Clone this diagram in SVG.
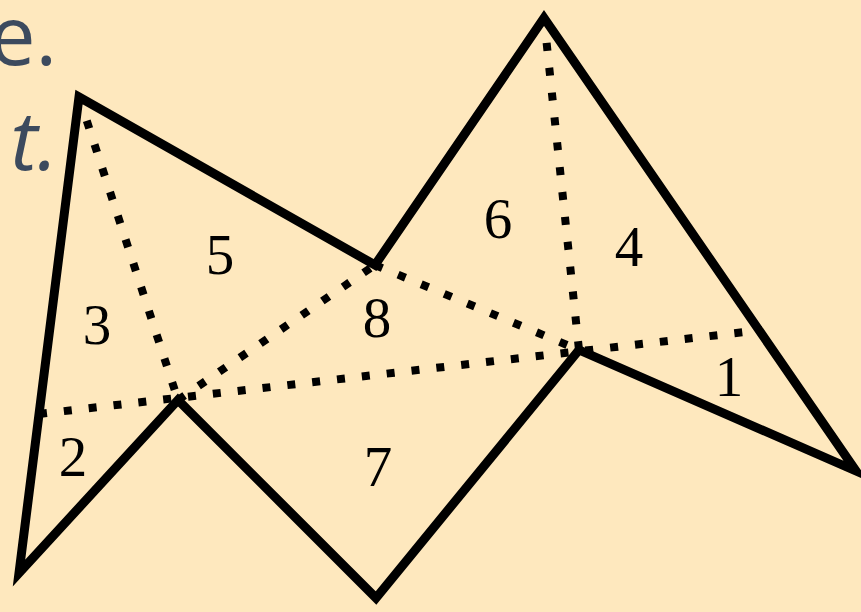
<svg xmlns="http://www.w3.org/2000/svg" width="861" height="612" viewBox="0 0 861 612">
<style>
.edge{fill:none;stroke:#000;stroke-width:9;stroke-linejoin:miter;stroke-miterlimit:10}
.dot{fill:none;stroke:#000;stroke-width:8;stroke-dasharray:8 17;stroke-linecap:butt}
.lbl{font-family:"Liberation Serif","DejaVu Serif",serif;font-size:57px;fill:#000;text-anchor:middle}
.bg{font-family:"Open Sans","Noto Sans",sans-serif;font-size:82px;fill:#3C4A5E;text-anchor:end}
</style>
<rect width="861" height="612" fill="#FEE8BE"/>
<text class="bg" x="57" y="65">e.</text>
<text class="bg" x="58" y="170" font-style="italic">t.</text>
<g id="connectors">
<line class="dot" x1="79" y1="97" x2="178" y2="400"/>
<line class="dot" x1="178" y1="400" x2="375" y2="265"/>
<line class="dot" x1="375" y1="265" x2="579" y2="350"/>
<line class="dot" x1="544" y1="18" x2="579" y2="350"/>
<line class="dot" x1="39" y1="414" x2="762" y2="330"/>
</g>
<g id="polygon">
<polygon class="edge" points="79,97 375,265 544,18 856,471 579,350 376,598 178,400 19,573"/>
</g>
<g id="n1"><text class="lbl" x="729" y="396">1</text></g>
<g id="n2"><text class="lbl" x="73" y="476">2</text></g>
<g id="n3"><text class="lbl" x="97" y="344">3</text></g>
<g id="n4"><text class="lbl" x="629" y="266">4</text></g>
<g id="n5"><text class="lbl" x="220" y="274">5</text></g>
<g id="n6"><text class="lbl" x="498" y="238">6</text></g>
<g id="n7"><text class="lbl" x="378" y="486">7</text></g>
<g id="n8"><text class="lbl" x="377" y="337">8</text></g>
</svg>
